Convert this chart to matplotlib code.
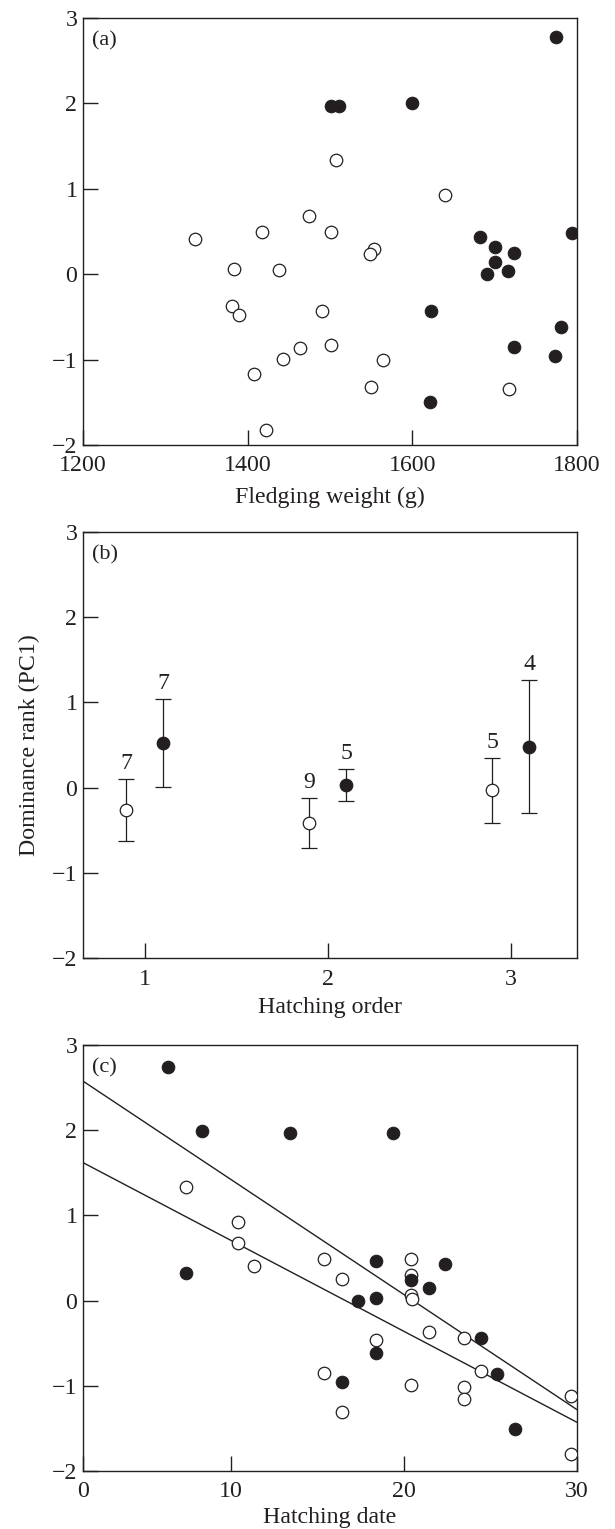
import numpy as np
import matplotlib
matplotlib.use('Agg')
import matplotlib.pyplot as plt

plt.rcParams['font.family'] = ['Liberation Serif', 'DejaVu Serif']

INK = '#231f20'

# ---------------- Panel (a): fledging weight vs dominance rank ----------------
a_filled_weight = [1774, 1501, 1511, 1600, 1682, 1701, 1723, 1701, 1691, 1716,
                   1794, 1623, 1781, 1724, 1773, 1621]
a_filled_pc1 = [2.78, 1.97, 1.97, 2.00, 0.43, 0.32, 0.25, 0.14, 0.00, 0.035,
                0.48, -0.43, -0.62, -0.855, -0.96, -1.50]
a_open_weight = [1507, 1640, 1475, 1417, 1501, 1336, 1554, 1549, 1384, 1438,
                 1381, 1390, 1490, 1463, 1501, 1443, 1564, 1408, 1550, 1717, 1422]
a_open_pc1 = [1.33, 0.93, 0.675, 0.49, 0.49, 0.41, 0.29, 0.23, 0.06, 0.05,
              -0.37, -0.48, -0.43, -0.86, -0.83, -0.99, -1.00, -1.17, -1.32, -1.345, -1.82]
a_xticks = [1200, 1400, 1600, 1800]

# ---------------- Panel (b): hatching order (mean +/- SE, with n) ----------------
hatch_order = [1, 2, 3]
b_open_mean = [-0.26, -0.412, -0.031]
b_open_err = [0.36, 0.29, 0.381]
b_open_n = [7, 9, 5]
b_filled_mean = [0.525, 0.035, 0.48]
b_filled_err = [0.518, 0.187, 0.78]
b_filled_n = [7, 5, 4]

# ---------------- Panel (c): hatching date vs dominance rank ----------------
c_filled_date = [6.41, 8.36, 13.45, 19.36, 7.43, 18.41, 22.39, 20.41, 21.45, 18.41,
                 17.34, 24.45, 18.41, 25.36, 16.43, 26.43]
c_filled_pc1 = [2.745, 1.996, 1.962, 1.966, 0.323, 0.468, 0.43, 0.247, 0.149, 0.034,
                0.0, -0.434, -0.613, -0.86, -0.953, -1.506]
c_open_date = [7.43, 10.41, 10.41, 11.36, 15.41, 16.43, 20.41, 20.41, 20.41, 20.5,
               21.45, 23.45, 18.41, 15.41, 24.45, 20.41, 23.45, 23.45, 29.65, 16.43, 29.65]
c_open_pc1 = [1.328, 0.928, 0.677, 0.409, 0.485, 0.255, 0.494, 0.306, 0.068, 0.013,
              -0.366, -0.434, -0.468, -0.851, -0.826, -0.987, -1.013, -1.157, -1.115, -1.306, -1.796]
c_xtick_labels = ['0', '10', '20', '30']

y_ticks = [-2, -1, 0, 1, 2, 3]

TICK_FS = 17.2
LET_FS = 16
MS = 9

fig = plt.figure(figsize=(6.15, 15.29), dpi=100)
W, H = 615.0, 1529.0


def make_ax(top_px, bottom_px):
    return fig.add_axes([83 / W, 1 - bottom_px / H, 494 / W, (bottom_px - top_px) / H])


def style(ax, letter):
    for s in ax.spines.values():
        s.set_linewidth(1.0)
        s.set_color(INK)
    ax.tick_params(direction='in', length=10.8, width=1.0, colors=INK,
                   labelsize=TICK_FS, top=False, right=False)
    ax.tick_params(axis='y', pad=4)
    ax.tick_params(axis='x', pad=7.5)
    ax.set_ylim(-2, 3)
    ax.set_yticks(y_ticks)
    ax.text(0.018, 0.946, letter, transform=ax.transAxes, ha='left', va='center',
            fontsize=LET_FS, color=INK)


def xlabel(ax, text, y_px_center, bottom_px):
    ax.set_xlabel(text, fontsize=TICK_FS, color=INK)
    h = ax.get_position().height * H
    ax.xaxis.set_label_coords(0.5, (bottom_px - y_px_center) / h)
    ax.xaxis.label.set_va('center')


def filled(ax, x, y):
    ax.plot(x, y, 'o', ms=MS, mfc=INK, mec=INK, mew=0.8, ls='none', zorder=3)


def hollow(ax, x, y):
    ax.plot(x, y, 'o', ms=MS, mfc='white', mec=INK, mew=0.9, ls='none', zorder=3)


# ---- (a)
axa = make_ax(17.7, 445.0)
style(axa, '(a)')
hollow(axa, a_open_weight, a_open_pc1)
filled(axa, a_filled_weight, a_filled_pc1)
axa.set_xlim(1200, 1800)
axa.set_xticks(a_xticks)
xlabel(axa, 'Fledging weight (g)', 497, 445.0)

# ---- (b)
axb = make_ax(531.7, 958.3)
style(axb, '(b)')
xo = np.array(hatch_order, dtype=float) - 0.1
xf = np.array(hatch_order, dtype=float) + 0.1
for xs, m, e, n, fc in [(xo, b_open_mean, b_open_err, b_open_n, 'white'),
                        (xf, b_filled_mean, b_filled_err, b_filled_n, INK)]:
    axb.errorbar(xs, m, yerr=e, fmt='o', ms=MS, mfc=fc, mec=INK, mew=0.9,
                 ecolor=INK, elinewidth=0.9, capsize=5.8, capthick=0.9, zorder=3)
    for xi, mi, ei, ni in zip(xs, m, e, n):
        axb.annotate(str(ni), (xi, mi + ei), xytext=(0, 11), textcoords='offset points',
                     ha='center', va='center', fontsize=TICK_FS, color=INK)
axb.set_xlim(0.663, 3.362)
axb.set_xticks(hatch_order)
xlabel(axb, 'Hatching order', 1008, 958.3)
fig.text(29 / W, 1 - 745 / H, 'Dominance rank (PC1)', rotation=90, ha='center',
         va='center', fontsize=TICK_FS, color=INK)

# ---- (c)
axc = make_ax(1045.0, 1471.0)
style(axc, '(c)')
c_xlim = (1.48, 30.0)
xx = np.array(c_xlim)
for dx, dy in [(c_filled_date, c_filled_pc1), (c_open_date, c_open_pc1)]:
    slope, icpt = np.polyfit(dx, dy, 1)
    axc.plot(xx, icpt + slope * xx, color=INK, lw=1.0, zorder=2)
hollow(axc, c_open_date, c_open_pc1)
filled(axc, c_filled_date, c_filled_pc1)
axc.set_xlim(*c_xlim)
axc.set_xticks([c_xlim[0], 10, 20, 30])
axc.set_xticklabels(c_xtick_labels)
xlabel(axc, 'Hatching date', 1518, 1471.0)

fig.savefig('out.png', dpi=100, facecolor='white')
